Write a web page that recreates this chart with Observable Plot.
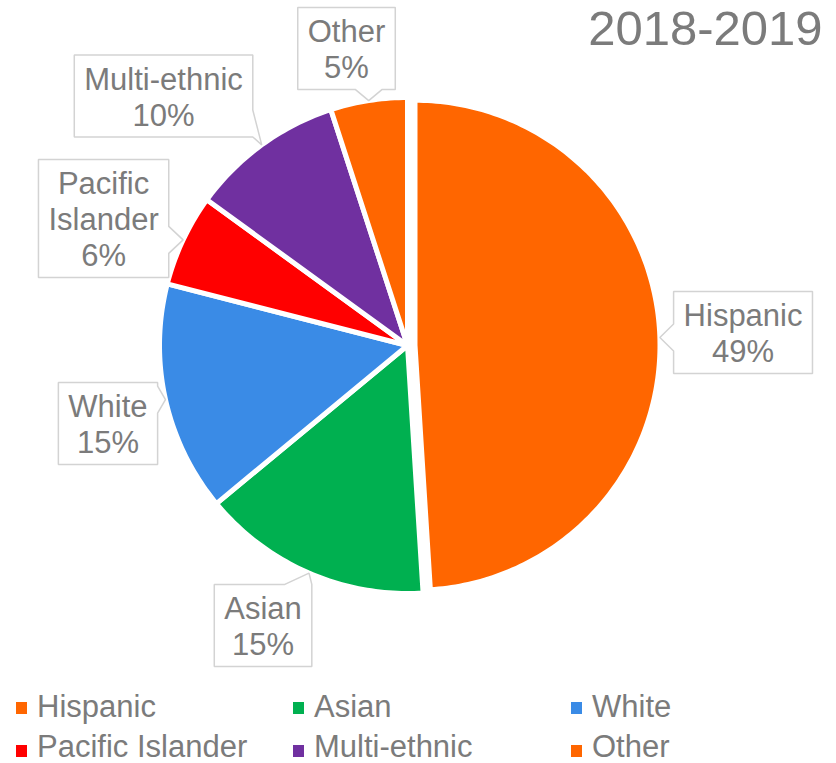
<!DOCTYPE html>
<html><head><meta charset="utf-8">
<script src="https://cdn.jsdelivr.net/npm/d3@7"></script>
<script src="https://cdn.jsdelivr.net/npm/@observablehq/plot@0.6"></script>
<style>
body{margin:0;background:#fff;font-family:"Liberation Sans",Arial,sans-serif;}
#chart{position:relative;width:836px;height:763px;overflow:hidden;}
#legend{position:absolute;left:0;top:680px;width:836px;height:83px;}
.item{position:absolute;font-size:31px;line-height:28px;color:#7b7b7b;white-space:nowrap;}
.sw{position:absolute;width:11px;height:12px;}
</style></head><body><div id="chart"></div>
<script>
// ---- data ----
const categories = ["Hispanic","Asian","White","Pacific Islander","Multi-ethnic","Other"];
const shares = [49,15,15,6,10,5];
const labelLines = [["Hispanic"],["Asian"],["White"],["Pacific","Islander"],["Multi-ethnic"],["Other"]];
const colors = ["#ff6600","#00b050","#3a8be6","#ff0000","#7030a0","#ff6600"];
const title = "2018-2019";

// ---- layout (not data) ----
const W = 836, H = 680;
const CX = 407, CY = 345, R = 248;           // pie centre / radius in px
const explodePx = [7.5,0,0,0,0,0];
const radiusK = [245/248,1,1,1,1,1];
const labelDist = [1.354,1.270,1.248,1.328,1.407,1.223];   // callout centre, in radii
const labelAngle = [87.78,207.3,255.4,292.67,315.64,348.4]; // degrees clockwise from top
const TXT = "#7b7b7b", FONT = "'Liberation Sans', Arial, sans-serif";
const FS = 31, LH = 36, PAD = 10, WEDGE = 27;

const pie = d3.pie().sort(null).value(d => d)(shares);

// slice outlines in unit coordinates
const slicePts = [];
const tips = [];
pie.forEach((p, i) => {
  const name = categories[i];
  const ex = explodePx[i] / R, rr = radiusK[i];
  const mid = (p.startAngle + p.endAngle) / 2;
  const ox = ex * Math.sin(mid), oy = ex * Math.cos(mid);
  slicePts.push({name, u: ox, v: oy});
  const n = Math.max(2, Math.ceil((p.endAngle - p.startAngle) / (Math.PI / 180)));
  for (let k = 0; k <= n; k++) {
    const a = p.startAngle + (p.endAngle - p.startAngle) * k / n;
    slicePts.push({name, u: ox + rr * Math.sin(a), v: oy + rr * Math.cos(a)});
  }
  tips.push({u: ox + rr * Math.sin(mid), v: oy + rr * Math.cos(mid)});
});

// callouts
const ctx = document.createElement("canvas").getContext("2d");
ctx.font = `${FS}px ${FONT}`;
const toPx = (u, v) => [CX + u * R, CY - v * R];
const toU = (px, py) => ({u: (px - CX) / R, v: (CY - py) / R});
const labels = [], calloutPts = [];
categories.forEach((name, i) => {
  const lines = labelLines[i].concat([shares[i] + "%"]);
  const a = labelAngle[i] * Math.PI / 180;
  const cxp = CX + labelDist[i] * R * Math.sin(a), cyp = CY - labelDist[i] * R * Math.cos(a);
  const tw = Math.max(...lines.map(l => ctx.measureText(l).width));
  const bw = tw + 2 * PAD, bh = lines.length * LH + 10;
  const x1 = cxp - bw / 2, x2 = cxp + bw / 2, y1 = cyp - bh / 2, y2 = cyp + bh / 2;
  const [tx, ty] = toPx(tips[i].u, tips[i].v);
  const outX = tx < x1 ? x1 - tx : tx > x2 ? tx - x2 : 0;
  const outY = ty < y1 ? y1 - ty : ty > y2 ? ty - y2 : 0;
  const clamp = (c, lo, hi) => Math.max(lo + WEDGE / 2, Math.min(hi - WEDGE / 2, c));
  let pts;
  if (outX >= outY) {
    const c = clamp(ty, y1, y2), b0 = c - WEDGE / 2, b1 = c + WEDGE / 2;
    if (tx < x1) pts = [[x1,y1],[x2,y1],[x2,y2],[x1,y2],[x1,b1],[tx,ty],[x1,b0]];
    else pts = [[x1,y1],[x2,y1],[x2,b0],[tx,ty],[x2,b1],[x2,y2],[x1,y2]];
  } else {
    const c = clamp(tx, x1, x2), b0 = c - WEDGE / 2, b1 = c + WEDGE / 2;
    if (ty < y1) pts = [[x1,y1],[b0,y1],[tx,ty],[b1,y1],[x2,y1],[x2,y2],[x1,y2]];
    else pts = [[x1,y1],[x2,y1],[x2,y2],[b1,y2],[tx,ty],[b0,y2],[x1,y2]];
  }
  pts.forEach(([px, py]) => calloutPts.push({name, ...toU(px, py)}));
  labels.push({name, text: lines.join("\n"), ...toU(cxp, cyp)});
});

const plot = Plot.plot({
  width: W, height: H, margin: 0,
  x: {domain: [-CX / R, (W - CX) / R], axis: null},
  y: {domain: [-(H - CY) / R, CY / R], axis: null},
  color: {domain: categories, range: colors},
  style: {fontFamily: FONT, background: "white", overflow: "visible"},
  marks: [
    Plot.line(slicePts, {x: "u", y: "v", z: "name", fill: "name", stroke: "white", strokeWidth: 5, strokeLinejoin: "round", curve: "linear-closed"}),
    Plot.line(calloutPts, {x: "u", y: "v", z: "name", fill: "white", stroke: "#d3d3d3", strokeWidth: 1.5, strokeLinejoin: "miter", curve: "linear-closed"}),
    Plot.text(labels, {x: "u", y: "v", text: "text", fontSize: FS, lineHeight: LH / FS, fill: TXT, fontFamily: FONT}),
    Plot.text([title], {frameAnchor: "top-right", lineAnchor: "top", dx: -14, dy: 10, fontSize: 49, fill: TXT, fontFamily: FONT})
  ]
});
const chart = document.getElementById("chart");
chart.appendChild(plot);

// legend (HTML, below the SVG)
const legend = document.createElement("div");
legend.id = "legend";
const colLeft = [16, 293, 571], rowTop = [12.75, 53.25], swTop = [22, 65];
categories.forEach((name, i) => {
  const c = i % 3, r = Math.floor(i / 3);
  const sw = document.createElement("div");
  sw.className = "sw";
  sw.style.left = colLeft[c] + "px"; sw.style.top = swTop[r] + "px";
  sw.style.background = colors[i];
  legend.appendChild(sw);
  const t = document.createElement("div");
  t.className = "item";
  t.style.left = (colLeft[c] + 21) + "px"; t.style.top = rowTop[r] + "px";
  t.textContent = name;
  legend.appendChild(t);
});
chart.appendChild(legend);
</script></body></html>
